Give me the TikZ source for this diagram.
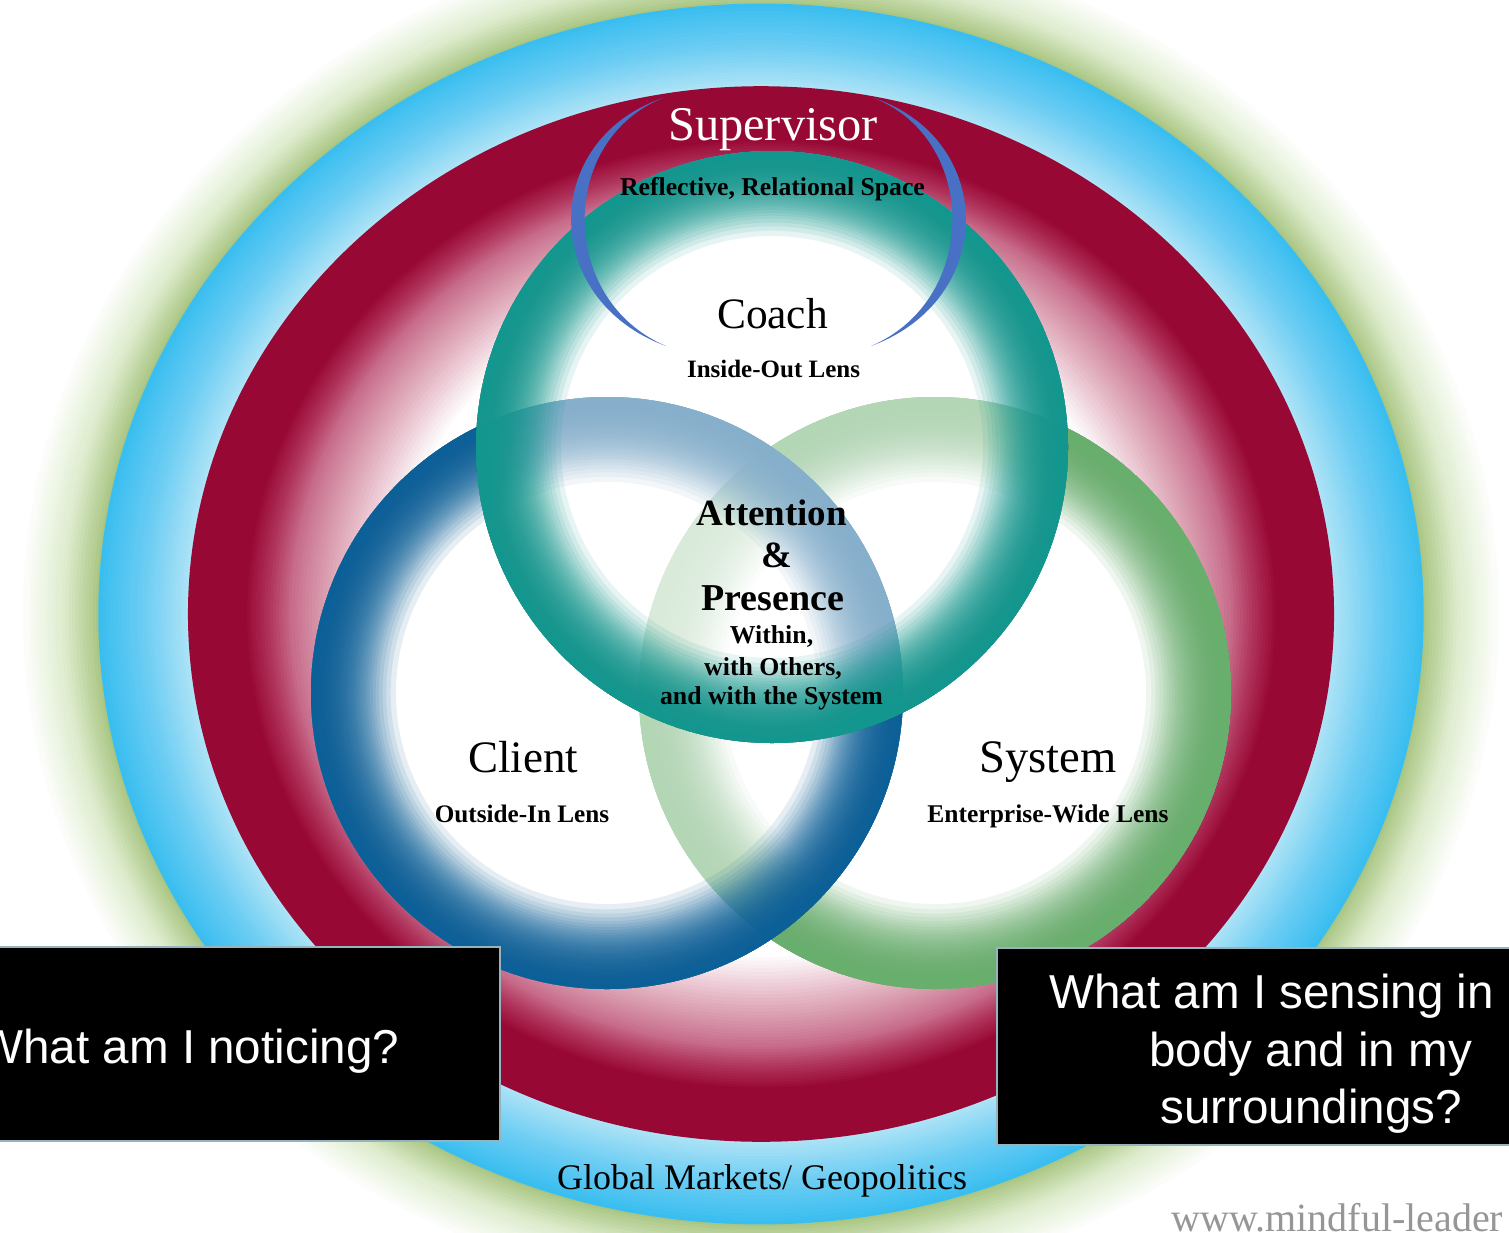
\documentclass[tikz,border=0pt]{standalone}
\usepackage{fontspec}
\setmainfont{Liberation Serif}
\newfontfamily\arialfont{Liberation Sans}

\definecolor{crim}{RGB}{152,8,52}
\definecolor{redA}{RGB}{175,50,90}
\definecolor{redB}{RGB}{200,110,140}
\definecolor{redC}{RGB}{216,152,172}
\definecolor{redD}{RGB}{228,182,196}
\definecolor{skyL}{RGB}{172,227,246}
\definecolor{skyM}{RGB}{112,206,243}
\definecolor{skyD}{RGB}{58,190,240}
\definecolor{olivegr}{RGB}{170,198,132}
\definecolor{greenL}{RGB}{222,236,205}
\definecolor{tealc}{RGB}{18,150,142}
\definecolor{cliblue}{RGB}{12,96,152}
\definecolor{sysgreen}{RGB}{104,174,108}
\definecolor{parblue}{RGB}{72,112,196}
\definecolor{wmgray}{RGB}{150,150,150}
\definecolor{boxedge}{RGB}{150,180,190}

% one band of the background rings: from radius #1 (colour #3) to radius #2 (colour #4), #5 steps
\newcommand\bgseg[5]{%
  \foreach \k in {0,...,#5}{%
    \pgfmathsetmacro\tval{#1-(#1-#2)*\k/#5}%
    \pgfmathsetmacro\pp{100*\k/#5}%
    \pgfmathsetmacro\rxv{7.6*\tval}%
    \pgfmathsetmacro\ryv{7*\tval}%
    \colorlet{segc}{#4!\pp!#3}%
    \fill[segc] (bgc) ellipse[x radius=\rxv pt, y radius=\ryv pt];
  }}

% coloured rim of a circle, transparent towards the centre
\newcommand\rimcircle[2]{%
  \foreach \i in {1,...,38}{%
    \pgfmathsetmacro\rin{148*(0.68+0.32*(\i/38)^0.625)}%
    \fill[#2, fill opacity=0.1, even odd rule] (#1) circle[radius=148pt] (#1) circle[radius=\rin pt];
  }}

\tikzset{
  lbl/.style={inner sep=0pt, anchor=base},
  qtext/.style={inner sep=0pt, anchor=base west, text=white, font=\arialfont\fontsize{23.8}{28}\selectfont},
  qbox/.style={fill=black, draw=boxedge, line width=0.6pt},
  paren/.style={fill=parblue}
}

\begin{document}
\begin{tikzpicture}[x=0.5pt, y=-0.5pt]
\useasboundingbox (0,0) rectangle (1509,1232);
\fill[white] (0,0) rectangle (1509,1232);
\clip (0,0) rectangle (1509,1232);

\coordinate (bgc) at (761,614);
\coordinate (cC) at (772,447);
\coordinate (cL) at (607,693);
\coordinate (cS) at (935,693);

% background rings (outer to inner)
\bgseg{48.8}{46}{white}{greenL}{12}
\bgseg{46}{43.75}{greenL}{olivegr}{10}
\bgseg{43.6}{40.5}{skyD}{skyM}{12}
\bgseg{40.5}{37.85}{skyM}{skyL}{12}
\bgseg{37.7}{34.0}{crim}{crim}{1}
\bgseg{34.0}{32.5}{crim}{redA}{8}
\bgseg{32.5}{30.9}{redA}{redB}{8}
\bgseg{30.9}{29.1}{redB}{redC}{8}
\bgseg{29.1}{27.7}{redC}{redD}{6}
\bgseg{27.7}{24.5}{redD}{white}{12}

% the three circles
\fill[white] (cS) circle[radius=148pt] (cL) circle[radius=148pt] (cC) circle[radius=148pt];
\rimcircle{cS}{sysgreen}
\fill[white, fill opacity=0.5] (cL) circle[radius=148pt];
\rimcircle{cL}{cliblue}
\fill[white, fill opacity=0.5] (cC) circle[radius=148pt];
\rimcircle{cC}{tealc}

% supervisor brackets
\fill[paren] (663,98) .. controls (540,140) and (540,300) .. (666,346) .. controls (558,300) and (558,140) .. (663,98) -- cycle;
\fill[paren] (874,98) .. controls (997,140) and (997,300) .. (871,346) .. controls (979,300) and (979,140) .. (874,98) -- cycle;

% texts
\node[lbl, text=white, font=\fontsize{24.2}{28}\selectfont] (sup) at (773,140) {Supervisor};
\node[lbl, font=\bfseries\fontsize{12.85}{15}\selectfont] (refl) at (772.5,195) {Reflective, Relational Space};
\node[lbl, font=\fontsize{21.7}{26}\selectfont] (coach) at (772.5,328) {Coach};
\node[lbl, font=\bfseries\fontsize{12.5}{15}\selectfont] (coachlens) at (773.5,377) {Inside-Out Lens};

\node[lbl, font=\bfseries\fontsize{18.5}{22}\selectfont] (att) at (772,525) {Attention};
\node[lbl, font=\bfseries\fontsize{18.5}{22}\selectfont] (amp) at (777,567) {\&};
\node[lbl, font=\bfseries\fontsize{19}{22}\selectfont] (pres) at (772.5,610) {Presence};
\node[lbl, font=\bfseries\fontsize{12.9}{15}\selectfont] (within) at (771.5,643) {Within,};
\node[lbl, font=\bfseries\fontsize{12.9}{15}\selectfont] (others) at (773,675) {with Others,};
\node[lbl, font=\bfseries\fontsize{12.9}{15}\selectfont] (withsys) at (771.5,704) {and with the System};

\node[lbl, font=\fontsize{22.5}{26}\selectfont] (client) at (523,772) {Client};
\node[lbl, font=\bfseries\fontsize{12.6}{15}\selectfont] (clientlens) at (522,822) {Outside-In Lens};
\node[lbl, font=\fontsize{23.3}{26}\selectfont] (system) at (1048,772) {System};
\node[lbl, font=\bfseries\fontsize{12.75}{15}\selectfont] (syslens) at (1048,822) {Enterprise-Wide Lens};

\node[lbl, font=\fontsize{18}{22}\selectfont] (global) at (762,1189) {Global Markets/ Geopolitics};

% question boxes
\path[qbox] (-5,947) rectangle (500,1141);
\node[qtext] (qnotice) at (-22,1063) {What am I noticing?};
\path[qbox] (997,948) rectangle (1515,1145);
\node[qtext] (qsense1) at (1049,1008) {What am I sensing in};
\node[qtext] (qsense2) at (1149,1066) {body and in my};
\node[qtext] (qsense3) at (1160,1123) {surroundings?};

% web address
\node[inner sep=0pt, anchor=base west, text=wmgray, font=\fontsize{20}{24}\selectfont] (web) at (1171,1231) {www.mindful-leader};
\end{tikzpicture}
\end{document}
